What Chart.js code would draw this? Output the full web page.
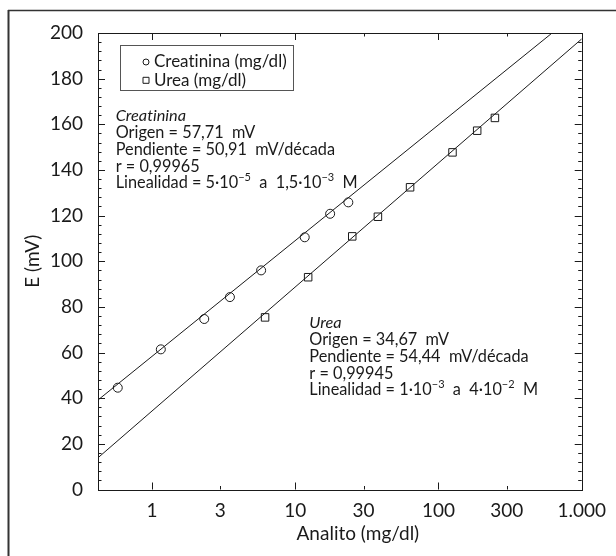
<!DOCTYPE html>
<html><head><meta charset="utf-8">
<script src="https://cdn.jsdelivr.net/npm/chart.js@4.4.1/dist/chart.umd.min.js"></script>
<style>html,body{margin:0;padding:0;background:#fff;}#wrap{width:616px;height:556px;position:relative;}</style>
</head><body><div id="wrap"><canvas id="c" width="616" height="556"></canvas></div>
<script>
// ---- data ----
const creatininaX = [0.577, 1.153, 2.317, 3.50, 5.78, 11.65, 17.53, 23.48];
const creatininaY = [44.6, 61.4, 74.7, 84.3, 96.0, 110.5, 120.8, 125.8];
const ureaX = [6.16, 12.31, 25.01, 37.78, 63.35, 125.3, 186.3, 247.8];
const ureaY = [75.4, 93.0, 110.9, 119.5, 132.4, 147.7, 157.2, 162.8];
const creatininaFitX = [0.42, 621];
const creatininaFitY = [39.2, 200];
const ureaFitX = [0.42, 1000];
const ureaFitY = [13.9, 197.4];
const xTickValues = [1, 3, 10, 30, 100, 300, 1000];
const xTickLabels = ['1', '3', '10', '30', '100', '300', '1.000'];
const xMajorTicks = [1, 10, 100, 1000];
const yTickValues = [0, 20, 40, 60, 80, 100, 120, 140, 160, 180, 200];
const yMinorStep = 4;
const seriesLabels = ['Creatinina (mg/dl)', 'Urea (mg/dl)'];
const xTitle = 'Analito (mg/dl)';
const yTitle = 'E (mV)';
const creatininaNote = ['Creatinina', 'Origen = 57,71  mV', 'Pendiente = 50,91  mV/década', 'r = 0,99965', 'Linealidad = 5·10^{−5}  a  1,5·10^{−3}  M'];
const ureaNote = ['Urea', 'Origen = 34,67  mV', 'Pendiente = 54,44  mV/década', 'r = 0,99945', 'Linealidad = 1·10^{−3}  a  4·10^{−2}  M'];

const FONT = 'Lato, "Open Sans", sans-serif';
const INK = '#1a1a1a';

function pts(xs, ys) { return xs.map((x, i) => ({x: x, y: ys[i]})); }

function drawRich(ctx, text, x, y, size, italic) {
  const parts = text.split(/(\^\{[^}]*\})/);
  let cx = x;
  ctx.textBaseline = 'middle';
  ctx.textAlign = 'left';
  for (const p of parts) {
    if (!p) continue;
    if (p.startsWith('^{')) {
      const t = p.slice(2, -1);
      ctx.font = (italic ? 'italic ' : '') + Math.round(size * 0.68) + 'px ' + FONT;
      ctx.fillText(t, cx, y - size * 0.33);
      cx += ctx.measureText(t).width;
    } else {
      ctx.font = (italic ? 'italic ' : '') + size + 'px ' + FONT;
      ctx.fillText(p, cx, y);
      cx += ctx.measureText(p).width;
    }
  }
}

const decor = {
  id: 'decor',
  afterDraw(chart) {
    const ctx = chart.ctx;
    const a = chart.chartArea;
    const xs = chart.scales.x, ys = chart.scales.y;
    ctx.save();
    try { ctx.textRendering = 'optimizeSpeed'; } catch (e) {}
    // outer frame (left and top edges)
    ctx.strokeStyle = '#333';
    ctx.lineWidth = 2;
    ctx.beginPath(); ctx.moveTo(8.5, 10); ctx.lineTo(8.5, 556); ctx.stroke();
    ctx.lineWidth = 1.5;
    ctx.beginPath(); ctx.moveTo(8, 10.5); ctx.lineTo(616, 10.5); ctx.stroke();
    // plot box
    ctx.strokeStyle = INK;
    ctx.lineWidth = 1;
    ctx.strokeRect(Math.round(a.left) + 0.5, Math.round(a.top) + 0.5, Math.round(a.right - a.left), Math.round(a.bottom - a.top));
    // inward ticks on y (left & right)
    ctx.beginPath();
    for (let v = ys.min; v <= ys.max + 1e-9; v += yMinorStep) {
      const py = Math.round(ys.getPixelForValue(v)) + 0.5;
      const len = yTickValues.includes(v) ? 7 : 3.5;
      ctx.moveTo(a.left, py); ctx.lineTo(a.left + len, py);
      ctx.moveTo(a.right, py); ctx.lineTo(a.right - len, py);
    }
    // inward ticks on x (bottom & top)
    for (const v of xTickValues) {
      const px = Math.round(xs.getPixelForValue(v)) + 0.5;
      const len = xMajorTicks.includes(v) ? 7 : 3.5;
      ctx.moveTo(px, a.bottom); ctx.lineTo(px, a.bottom - len);
      ctx.moveTo(px, a.top); ctx.lineTo(px, a.top + len);
    }
    ctx.stroke();
    // legend box
    const lx = a.left + 21.5, ly = a.top + 12;
    ctx.strokeStyle = '#555';
    ctx.strokeRect(Math.round(lx) + 0.5, Math.round(ly) + 0.5, 173, 45);
    ctx.fillStyle = INK;
    ctx.strokeStyle = INK;
    chart.data.datasets.filter(d => d.inLegend).forEach((d, i) => {
      const cy = ly + 17 + i * 18.3;
      const mx = lx + 26.5;
      ctx.beginPath();
      if (d.pointStyle === 'circle') ctx.arc(mx, cy, 3, 0, Math.PI * 2);
      else ctx.rect(mx - 3, cy - 3, 6, 6);
      ctx.stroke();
      ctx.font = '17px ' + FONT;
      ctx.textBaseline = 'middle';
      ctx.textAlign = 'left';
      ctx.fillText(d.label, lx + 34.5, cy);
    });
    // annotations
    const notes = [
      {lines: creatininaNote, x: a.left + 17.7, y: a.top + 83},
      {lines: ureaNote, x: a.left + 211.3, y: a.top + 290}
    ];
    for (const n of notes) {
      n.lines.forEach((t, i) => drawRich(ctx, t, n.x, n.y + i * 16.8, 16.3, i === 0));
    }
    // x title
    ctx.font = '19px ' + FONT;
    ctx.textAlign = 'center';
    ctx.textBaseline = 'middle';
    ctx.fillText(xTitle, (a.left + a.right) / 2 + 18, 534);
    ctx.restore();
  }
};

new Chart(document.getElementById('c'), {
  type: 'scatter',
  data: {
    datasets: [
      {label: seriesLabels[0], inLegend: true, data: pts(creatininaX, creatininaY), pointStyle: 'circle', pointRadius: 4.5,
       borderColor: INK, backgroundColor: 'rgba(0,0,0,0)', borderWidth: 1, showLine: false},
      {label: seriesLabels[1], inLegend: true, data: pts(ureaX, ureaY), pointStyle: 'rect', pointRadius: 5.3,
       borderColor: INK, backgroundColor: 'rgba(0,0,0,0)', borderWidth: 1, showLine: false},
      {label: 'fit C', data: pts(creatininaFitX, creatininaFitY), showLine: true, pointRadius: 0,
       borderColor: INK, borderWidth: 1, fill: false},
      {label: 'fit U', data: pts(ureaFitX, ureaFitY), showLine: true, pointRadius: 0,
       borderColor: INK, borderWidth: 1, fill: false}
    ]
  },
  options: {
    responsive: false,
    animation: false,
    devicePixelRatio: 1,
    layout: {padding: {left: 0, top: 33, right: 27.7, bottom: 0}},
    plugins: {legend: {display: false}, tooltip: {enabled: false}},
    scales: {
      x: {
        type: 'logarithmic', min: 0.42, max: 1000,
        afterBuildTicks: s => { s.ticks = xTickValues.map(v => ({value: v})); },
        afterFit: s => { s.height = 66.5; },
        grid: {display: false, drawTicks: false},
        border: {display: false},
        ticks: {autoSkip: false, maxRotation: 0, padding: 10, color: INK, font: {family: FONT, size: 19},
          callback: v => xTickLabels[xTickValues.indexOf(v)]}
      },
      y: {
        min: 0, max: 200,
        afterBuildTicks: s => { s.ticks = yTickValues.map(v => ({value: v})); },
        afterFit: s => { s.width = 98; },
        grid: {display: false, drawTicks: false},
        border: {display: false},
        ticks: {padding: 15, color: INK, font: {family: FONT, size: 19}},
        title: {display: true, text: yTitle, color: INK, font: {family: FONT, size: 19}, padding: {top: 21, bottom: 0}}
      }
    }
  },
  plugins: [decor]
});
</script></body></html>
